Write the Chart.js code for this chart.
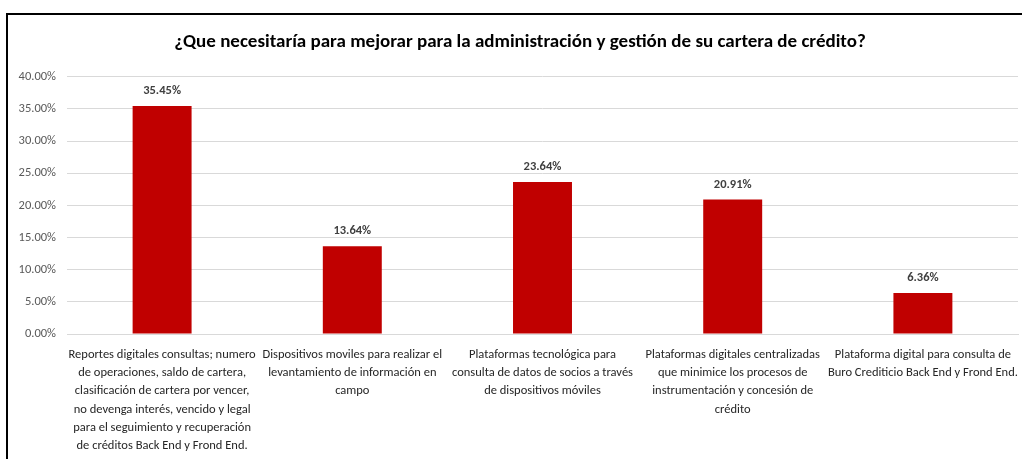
<!DOCTYPE html>
<html>
<head>
<meta charset="utf-8">
<script src="https://cdn.jsdelivr.net/npm/chart.js@4/dist/chart.umd.min.js"></script>
<style>
  html, body { margin: 0; padding: 0; background: #fff; overflow: hidden; }
  #frame {
    position: absolute; left: 6px; top: 13px; width: 1030px; height: 460px;
    border-left: 2px solid #000; border-top: 2px solid #000;
  }
  #wrap { position: absolute; left: 0; top: 0; width: 1014px; height: 444px; }
</style>
</head>
<body>
<div id="frame"><div id="wrap"><canvas id="chart"></canvas></div></div>
<script>
// Données
const categories = [
  ['Reportes digitales consultas; numero', 'de operaciones, saldo de cartera,', 'clasificación de cartera por vencer,', 'no devenga interés, vencido y legal', 'para el seguimiento y recuperación', 'de créditos Back End y Frond End.'],
  ['Dispositivos moviles para realizar el', 'levantamiento de información en', 'campo'],
  ['Plataformas tecnológica para', 'consulta de datos de socios a través', 'de dispositivos móviles'],
  ['Plataformas digitales centralizadas', 'que minimice los procesos de', 'instrumentación y concesión de', 'crédito'],
  ['Plataforma digital para consulta de', 'Buro Crediticio Back End y Frond End.']
];
const percentages = [35.45, 13.64, 23.64, 20.91, 6.36];
const yTicks = [0, 5, 10, 15, 20, 25, 30, 35, 40];
const chartTitle = '¿Que necesitaría para mejorar para la administración y gestión de su cartera de crédito?';

const fontFamily = 'Carlito, Lato, "Liberation Sans", sans-serif';

// Étiquettes au-dessus des barres
const barLabels = {
  id: 'barLabels',
  afterDatasetsDraw(chart) {
    const ctx = chart.ctx;
    const meta = chart.getDatasetMeta(0);
    ctx.save();
    ctx.font = 'bold 12.5px ' + fontFamily;
    ctx.fillStyle = '#404040';
    ctx.textAlign = 'center';
    ctx.textBaseline = 'middle';
    meta.data.forEach((bar, i) => {
      ctx.fillText(percentages[i].toFixed(2) + '%', bar.x, bar.y - 15);
    });
    ctx.restore();
  }
};

// Décaler un peu le titre vers la droite
const titleShift = {
  id: 'titleShift',
  afterLayout(chart) {
    if (chart.titleBlock) {
      chart.titleBlock.left += 7;
      chart.titleBlock.right += 7;
    }
  }
};

const ctx = document.getElementById('chart').getContext('2d');
new Chart(ctx, {
  type: 'bar',
  data: {
    labels: categories,
    datasets: [{
      data: percentages,
      backgroundColor: '#C00000',
      barPercentage: 0.62,
      categoryPercentage: 0.5
    }]
  },
  options: {
    responsive: true,
    maintainAspectRatio: false,
    animation: false,
    layout: { padding: { left: 0, right: 4, top: 0, bottom: 0 } },
    plugins: {
      legend: { display: false },
      tooltip: { enabled: false },
      title: {
        display: true,
        text: chartTitle,
        color: '#000',
        font: { family: fontFamily, size: 19, weight: 'bold' },
        padding: { top: 16, bottom: 23 }
      }
    },
    scales: {
      x: {
        grid: { display: false, drawTicks: false },
        border: { color: '#d9d9d9' },
        ticks: {
          color: '#262626',
          font: { family: fontFamily, size: 12.5, lineHeight: 1.45 },
          maxRotation: 0,
          autoSkip: false,
          padding: 12
        },
        afterFit(scale) {
          scale.height = 125;
          scale.paddingLeft = 0;
          scale.paddingRight = 0;
        }
      },
      y: {
        min: 0,
        max: 40,
        afterBuildTicks(scale) { scale.ticks = yTicks.map(v => ({ value: v })); },
        grid: { color: '#d9d9d9', drawTicks: false },
        border: { display: false },
        ticks: {
          color: '#595959',
          font: { family: fontFamily, size: 12.5 },
          padding: 11,
          callback: v => v.toFixed(2) + '%'
        },
        afterFit(scale) {
          scale.width = 59;
          scale.paddingTop = 0;
          scale.paddingBottom = 0;
        }
      }
    }
  },
  plugins: [barLabels, titleShift]
});
</script>
</body>
</html>
